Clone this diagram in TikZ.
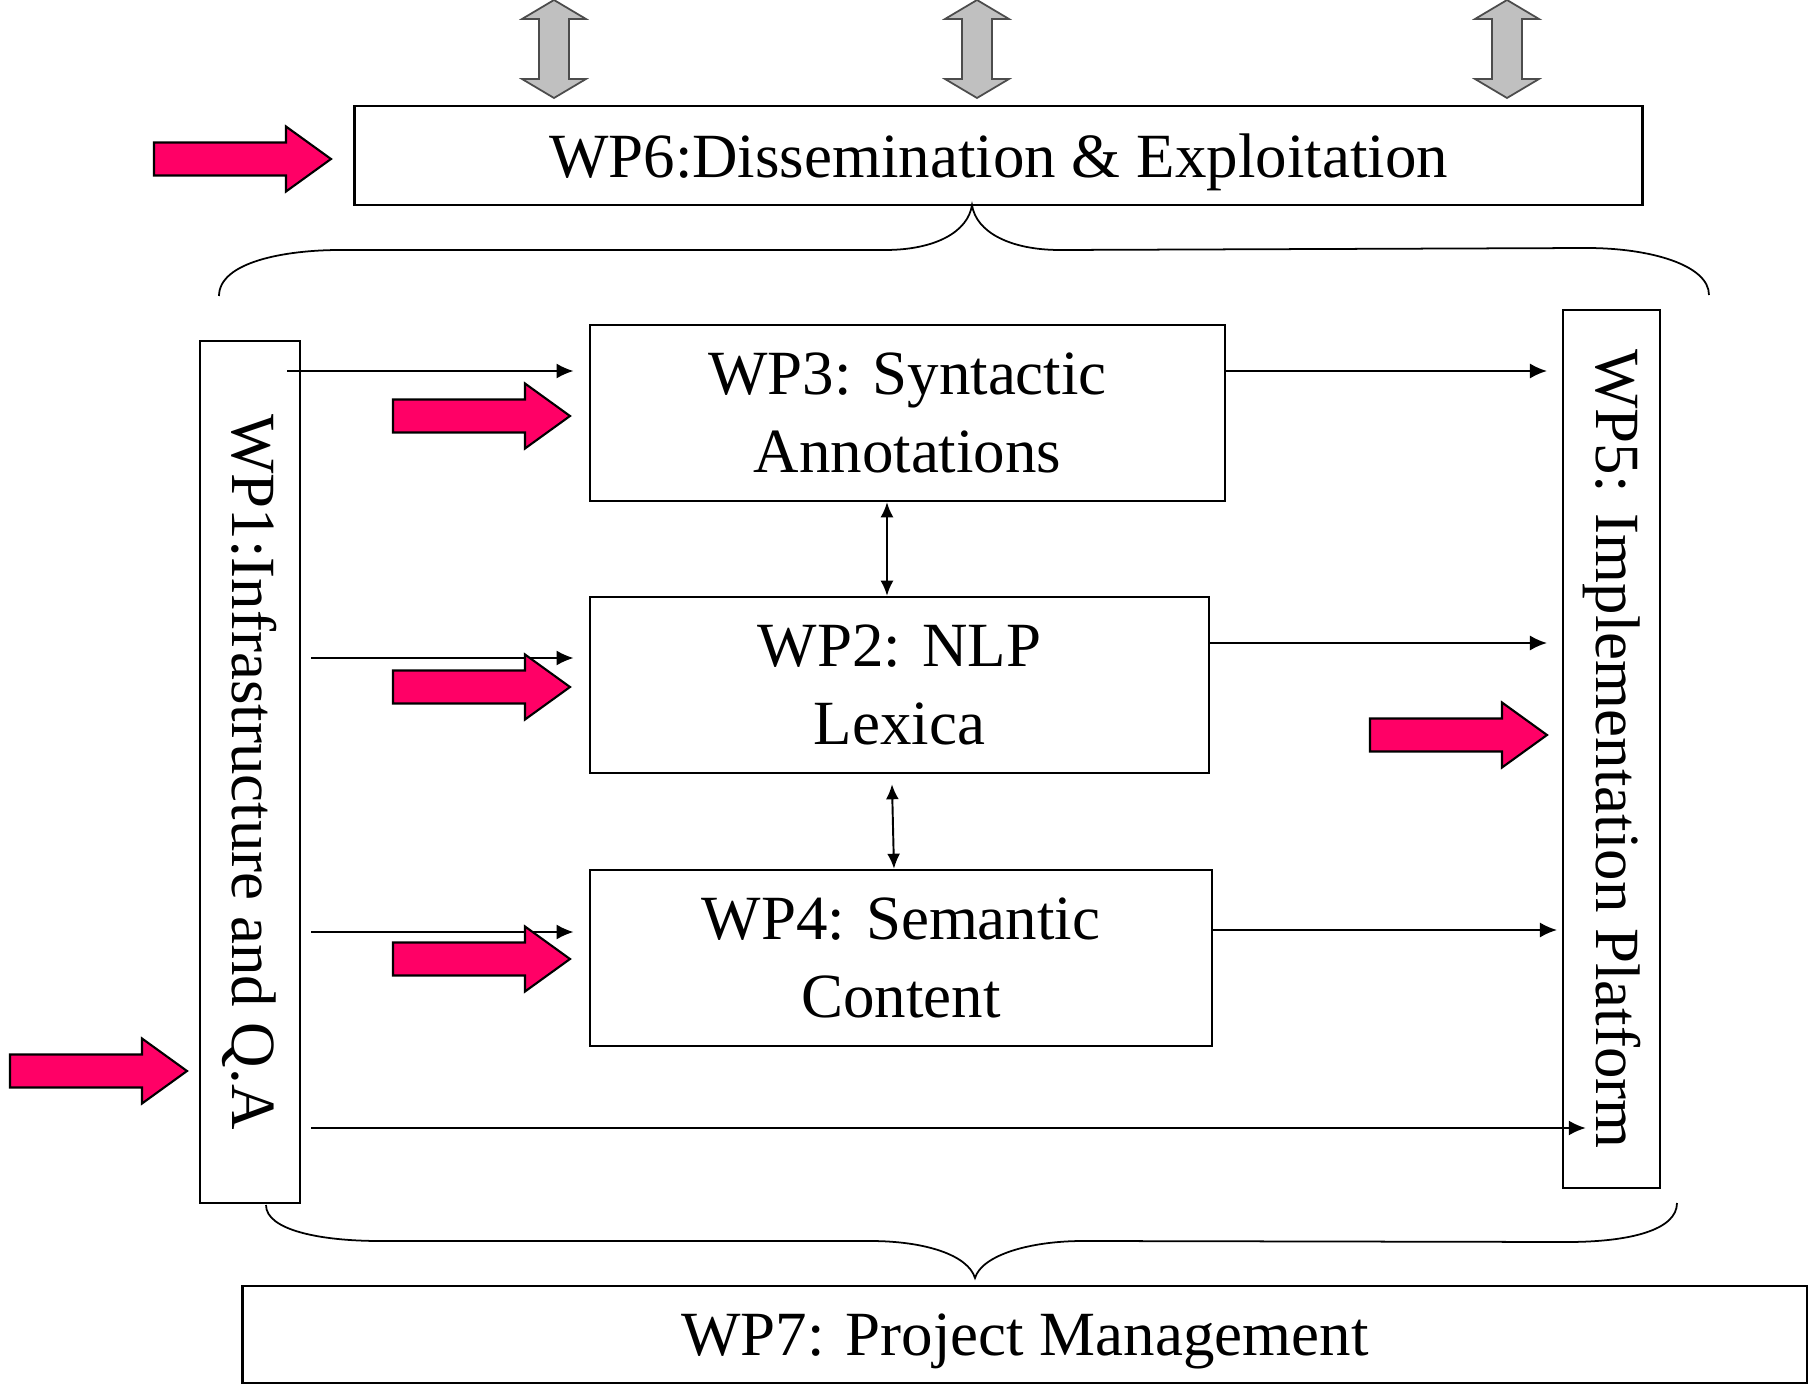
\documentclass[tikz,border=0pt]{standalone}
\usepackage{fontspec}
\setmainfont{Liberation Serif}
\usetikzlibrary{arrows.meta}
\definecolor{hotpink}{RGB}{255,0,102}
\definecolor{arrowgrey}{RGB}{192,192,192}
\newcommand{\hotarrow}[2]{\filldraw[hot] (#1,#2) -- ++(-45,-32.5) -- ++(0,16) -- ++(-132,0) -- ++(0,33) -- ++(132,0) -- ++(0,16) -- cycle;}
\newcommand{\greyarrow}[1]{\filldraw[grey] (#1,0) -- ++(32,19) -- ++(-17,0) -- ++(0,60) -- ++(17,0) -- ++(-32,19) -- ++(-32,-19) -- ++(17,0) -- ++(0,-60) -- ++(-17,0) -- cycle;}

\begin{document}
\begin{tikzpicture}[x=0.01cm,y=-0.01cm,
  wp/.style={draw,line width=0.7pt,inner sep=0pt,align=center,font=\fontsize{17.9}{22.2}\selectfont},
  flow/.style={-{Latex[length=1.7mm,width=1.5mm]},line width=0.55pt,shorten >=1.5mm},
  both/.style={{Latex[length=1.5mm,width=1.3mm]}-{Latex[length=1.5mm,width=1.3mm]},line width=0.55pt},
  hot/.style={fill=hotpink,draw=black,line width=0.6pt},
  grey/.style={fill=arrowgrey,draw=black!70,line width=0.5pt},
  brace/.style={line width=0.5pt}]
\useasboundingbox (0,0) rectangle (1808,1385);
\node[wp,text depth=0pt,minimum width=12.87cm,minimum height=0.99cm] (wp6) at (998.5,155.5) {WP6:Dissemination \& Exploitation};
\node[wp,minimum width=6.35cm,minimum height=1.76cm] (wp3) at (907.5,413) {WP3: Syntactic\\Annotations};
\node[wp,minimum width=6.19cm,minimum height=1.76cm] (wp2) at (899.5,685) {WP2: NLP\\Lexica};
\node[wp,minimum width=6.22cm,minimum height=1.76cm] (wp4) at (901,958) {WP4: Semantic\\Content};
\node[wp,rotate=-90,minimum width=8.62cm,minimum height=1cm] (wp1) at (250,772) {WP1:Infrastructure and Q.A};
\node[wp,rotate=-90,minimum width=8.78cm,minimum height=0.97cm] (wp5) at (1611.5,749) {WP5: Implementation Platform};
\node[wp,text depth=0pt,minimum width=15.64cm,minimum height=0.97cm] (wp7) at (1025,1334.5) {WP7: Project Management};
\coordinate (a3) at (287,371);
\coordinate (a2) at (311,658);
\coordinate (a4) at (311,932);
\coordinate (a5) at (311,1128);
\coordinate (b3) at (1562,371);
\coordinate (b2) at (1562,643);
\coordinate (b4) at (1572,930);
\draw[flow] (a3) -- (wp3.west |- a3);
\draw[flow] (a2) -- (wp2.west |- a2);
\draw[flow] (a4) -- (wp4.west |- a4);
\draw[flow,shorten >=-2.4mm] (a5) -- (wp5.south |- a5);
\draw[flow] (wp3.east |- b3) -- (b3);
\draw[flow] (wp2.east |- b2) -- (b2);
\draw[flow] (wp4.east |- b4) -- (b4);
\draw[both] ([xshift=-2.05mm]wp3.south) -- ([xshift=-1.25mm]wp2.north);
\draw[both] ([xshift=-0.75mm,yshift=-1mm]wp2.south) -- ([xshift=-0.7mm]wp4.north);
\draw[brace] (219,296) .. controls (219,262) and (285,250) .. (340,250) -- (885,250) .. controls (935,250) and (968,232) .. (972,205) .. controls (976,232) and (1010,250) .. (1060,250) -- (1587,248) .. controls (1650,248) and (1709,265) .. (1709,295);
\draw[brace] (266,1205) .. controls (266,1230) and (320,1241) .. (380,1241) -- (870,1241) .. controls (925,1241) and (968,1255) .. (975,1278) .. controls (982,1255) and (1030,1241) .. (1083,1241) -- (1567,1242) .. controls (1630,1242) and (1677,1230) .. (1677,1203);
\greyarrow{554}
\greyarrow{977}
\greyarrow{1507}
\hotarrow{331}{159}
\hotarrow{570}{416}
\hotarrow{570}{687}
\hotarrow{570}{959}
\hotarrow{187}{1071}
\hotarrow{1547}{735}
\end{tikzpicture}
\end{document}
